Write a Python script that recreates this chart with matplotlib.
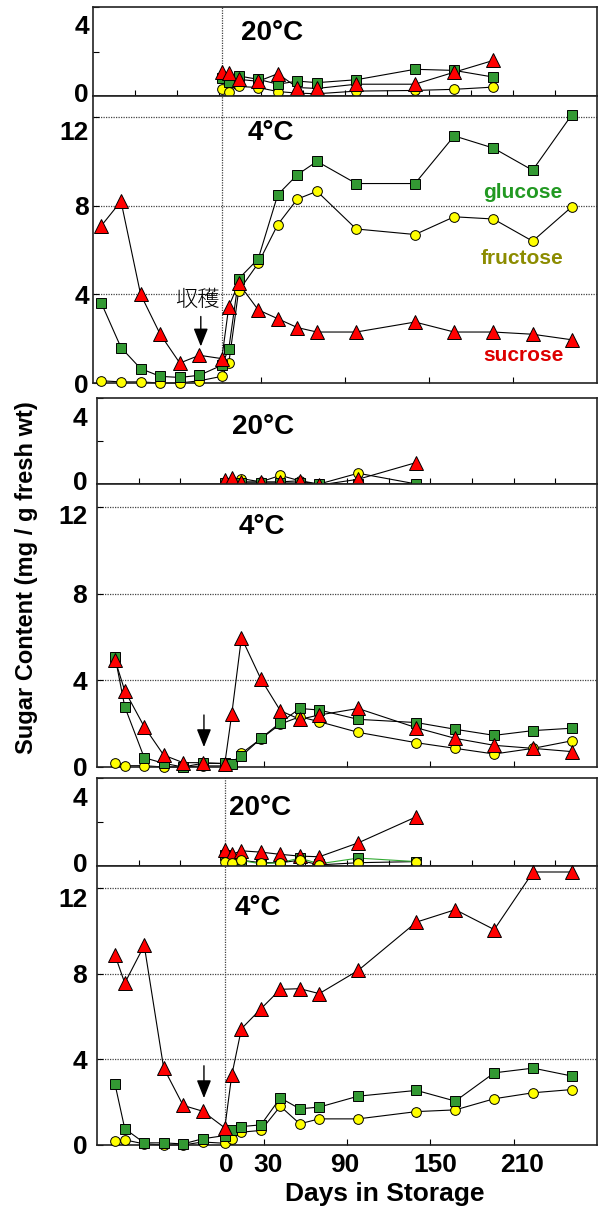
import matplotlib
matplotlib.use('Agg')
import matplotlib.pyplot as plt
import matplotlib.transforms as mtrans

# ---- data (days, mg / g fresh wt) ----
pre_a = [-84, -70, -56, -42, -28, -14]
pre_b = [-77, -70, -56, -42, -28, -14]
store_4c = [2, 7, 14, 28, 42, 56, 70, 98, 140, 168, 196, 224, 252]
store_20c_a = [2, 7, 14, 28, 42, 56, 70, 98, 140, 168, 196]
store_20c_b = [2, 7, 14, 28, 42, 56, 70, 98, 140]

# cultivar 1
suc_20_a = [1.08, 1.04, 0.75, 0.66, 1.0, 0.38, 0.34, 0.53, 0.53, 1.07, 1.6]
glc_20_a = [0.83, 0.62, 0.9, 0.75, 0.53, 0.67, 0.6, 0.73, 1.2, 1.15, 0.85]
fru_20_a = [0.33, 0.2, 0.43, 0.38, 0.2, 0.13, 0.1, 0.22, 0.25, 0.3, 0.4]
suc_4_a = [7.1, 8.2, 4.0, 2.2, 0.9, 1.25, 1.1, 3.45, 4.5, 3.3, 2.9, 2.5, 2.3, 2.3, 2.75, 2.3, 2.3, 2.2, 1.95]
glc_4_a = [3.6, 1.6, 0.65, 0.3, 0.25, 0.35, 0.8, 1.55, 4.7, 5.6, 8.5, 9.4, 10.0, 9.0, 9.0, 11.15, 10.6, 9.6, 12.1]
fru_4_a = [0.1, 0.05, 0.05, 0.0, 0.0, 0.1, 0.3, 0.9, 4.15, 5.4, 7.15, 8.3, 8.65, 6.95, 6.7, 7.5, 7.4, 6.4, 7.95]

# cultivar 2
suc_20_b = [0.2, 0.28, 0.1, 0.1, 0.1, 0.15, -0.05, 0.22, 1.0]
glc_20_b = [0.05, 0.05, 0.05, 0.05, 0.05, 0.05, 0.0, 0.0, 0.0]
fru_20_b = [0.1, -0.05, 0.25, 0.1, 0.4, 0.15, 0.0, 0.5, 0.0]
suc_4_b = [4.94, 3.52, 1.86, 0.55, 0.2, 0.2, 0.15, 2.43, 5.97, 4.06, 2.6, 2.2, 2.4, 2.7, 1.81, 1.32, 1.0, 0.86, 0.71]
glc_4_b = [5.09, 2.78, 0.43, 0.17, 0.0, 0.17, 0.17, 0.15, 0.5, 1.32, 2.05, 2.7, 2.63, 2.2, 2.05, 1.74, 1.46, 1.68, 1.79]
fru_4_b = [0.2, 0.06, 0.06, 0.0, 0.0, 0.05, 0.05, 0.15, 0.63, 1.3, 1.98, 2.32, 2.09, 1.6, 1.12, 0.86, 0.6, 0.86, 1.21]

# cultivar 3
suc_20_c = [0.74, 0.53, 0.69, 0.63, 0.53, 0.45, 0.42, 1.05, 2.24]
glc_20_c = [0.5, 0.3, 0.25, 0.1, 0.15, 0.36, 0.1, 0.36, 0.2]
fru_20_c = [0.2, 0.15, 0.26, 0.15, 0.15, 0.26, 0.05, 0.15, 0.2]
suc_4_c = [8.86, 7.56, 9.32, 3.6, 1.85, 1.58, 0.8, 3.25, 5.43, 6.36, 7.27, 7.3, 7.07, 8.15, 10.41, 10.99, 10.06, 12.75, 12.75]
glc_4_c = [2.83, 0.76, 0.1, 0.1, 0.05, 0.29, 0.44, 0.71, 0.86, 0.94, 2.2, 1.69, 1.77, 2.28, 2.55, 2.05, 3.37, 3.59, 3.22]
fru_4_c = [0.18, 0.24, 0.05, 0.0, 0.0, 0.14, 0.08, 0.29, 0.6, 0.68, 1.81, 0.99, 1.22, 1.22, 1.56, 1.64, 2.16, 2.44, 2.59]

harvest_day = -13
arrow_a = (3.0, 1.65)
arrow_b = (2.4, 0.92)
arrow_c = (3.7, 2.19)

# ---- styling ----
plt.rcParams['font.family'] = ['Liberation Sans', 'DejaVu Sans']
plt.rcParams['font.weight'] = 'bold'
W, H = 599, 1207
fig = plt.figure(figsize=(W / 100, H / 100), dpi=100)

GREEN = '#339933'
RED = '#ff0000'
YELLOW = '#ffff00'
TICK_FS = 19


def px(x, y):
    return x / W, 1 - y / H


def panel(l, t, r, b):
    return fig.add_axes([l / W, 1 - b / H, (r - l) / W, (b - t) / H])


def shift(lbl, dx, dy):
    lbl.set_transform(lbl.get_transform() +
                      mtrans.ScaledTranslation(dx / 100, dy / 100, fig.dpi_scale_trans))


def draw(ax, x, suc, glc, fru, glc_line='k', fru_top=False):
    for y, c in ((fru, 'k'), (glc, glc_line), (suc, 'k')):
        ax.plot(x, y, '-', color=c, lw=0.8, zorder=2, clip_on=False)
    ax.plot(x, fru, ls='none', marker='o', ms=7, mfc=YELLOW, mec='k', mew=0.7,
            zorder=6 if fru_top else 3, clip_on=False)
    ax.plot(x, glc, ls='none', marker='s', ms=7.5, mfc=GREEN, mec='k', mew=0.7,
            zorder=4, clip_on=False)
    ax.plot(x, suc, ls='none', marker='^', ms=9.5, mfc=RED, mec='k', mew=0.7,
            zorder=5, clip_on=False)


def frame(ax, ylim):
    ax.set_xlim(-90, 270)
    ax.set_ylim(*ylim)
    for s in ax.spines.values():
        s.set_linewidth(1.2)
        s.set_color('#222222')


def warm_panel(ax, pad):
    frame(ax, (0, 4.0))
    ax.set_xticks([-60, -30, 0, 30, 60, 90, 120, 150, 180, 210, 240])
    ax.set_xticklabels([])
    ax.set_yticks([0, 4])
    ax.set_yticks([2], minor=True)
    ax.tick_params(which='both', direction='in', length=4, width=0.8)
    ax.tick_params(axis='y', labelsize=TICK_FS, pad=pad)
    labs = ax.get_yticklabels()
    shift(labs[0], 0, 4)
    shift(labs[1], 0, -18)


def cold_panel(ax, top, pad, off12):
    frame(ax, (0, top))
    ax.set_xticks([30, 90, 150, 210])
    ax.set_xticklabels([])
    ax.set_yticks([0, 4, 8, 12])
    ax.tick_params(direction='in', length=4, width=0.8)
    ax.tick_params(axis='y', labelsize=TICK_FS, pad=pad)
    for v in (4, 8, 12):
        ax.axhline(v, color='#444444', lw=0.9, ls=(0, (1, 1)), zorder=1)
    shift(ax.get_yticklabels()[3], 0, off12)


def vline(ax):
    ax.axvline(2, color='#444444', lw=0.9, ls=(0, (1, 1)), zorder=1)


def arrow(ax, y0, y1):
    ax.annotate('', xy=(harvest_day, y1), xytext=(harvest_day, y0),
                arrowprops=dict(arrowstyle='-|>,head_length=0.55,head_width=0.22',
                                mutation_scale=20, color='k', lw=1.0,
                                shrinkA=0, shrinkB=0), zorder=7)


# ---- panels ----
ax1 = panel(93, 7, 597, 96)
warm_panel(ax1, 3)
vline(ax1)
draw(ax1, store_20c_a, suc_20_a, glc_20_a, fru_20_a)

ax2 = panel(93, 96, 597, 383)
cold_panel(ax2, 12.95, 3, -13)
vline(ax2)
draw(ax2, pre_a + store_4c, suc_4_a, glc_4_a, fru_4_a)
arrow(ax2, *arrow_a)

ax3 = panel(97, 398, 597, 484)
warm_panel(ax3, 7)
draw(ax3, store_20c_b, suc_20_b, glc_20_b, fru_20_b)

ax4 = panel(97, 484, 597, 767)
cold_panel(ax4, 13.06, 7, -8)
draw(ax4, pre_b + store_4c, suc_4_b, glc_4_b, fru_4_b)
arrow(ax4, *arrow_b)

ax5 = panel(97, 778, 597, 866)
warm_panel(ax5, 7)
vline(ax5)
draw(ax5, store_20c_b, suc_20_c, glc_20_c, fru_20_c, glc_line='#33aa33', fru_top=True)

ax6 = panel(97, 866, 597, 1145)
cold_panel(ax6, 13.03, 7, -9)
vline(ax6)
draw(ax6, pre_b + store_4c, suc_4_c, glc_4_c, fru_4_c)
arrow(ax6, *arrow_c)
ax6.set_xticks([0, 30, 90, 150, 210])
ax6.set_xticklabels(['0', '30', '90', '150', '210'])
ax6.tick_params(axis='x', labelsize=TICK_FS, pad=6)
ax6.xaxis.get_major_ticks()[0].tick1line.set_visible(False)
for lbl, dx in zip(ax6.get_xticklabels(), (4, 4, -2, 5, 8)):
    shift(lbl, dx, 0)

# ---- texts ----
for (x, y), s in (((272, 33), '20°C'), ((271, 133), '4°C'), ((263, 427), '20°C'),
                  ((262, 527), '4°C'), ((260, 808), '20°C'), ((258, 908), '4°C')):
    fig.text(*px(x, y), s, fontsize=20, fontweight='bold', ha='center', va='center')

fig.text(*px(523, 193), 'glucose', color='#229922', fontsize=15, ha='center', va='center')
fig.text(*px(522, 259), 'fructose', color='#8c8c00', fontsize=15, ha='center', va='center')
fig.text(*px(524, 356), 'sucrose', color='#dd0000', fontsize=15, ha='center', va='center')

fig.text(*px(197, 300), '収穫', family=['Noto Sans CJK JP'], fontweight='light',
         fontsize=16, ha='center', va='center')

fig.text(*px(27, 578), 'Sugar Content (mg / g fresh wt)', fontsize=17, rotation=90,
         ha='center', va='center')
fig.text(*px(385, 1194), 'Days in Storage', fontsize=19, ha='center', va='center')

fig.savefig('out.png', dpi=100)
